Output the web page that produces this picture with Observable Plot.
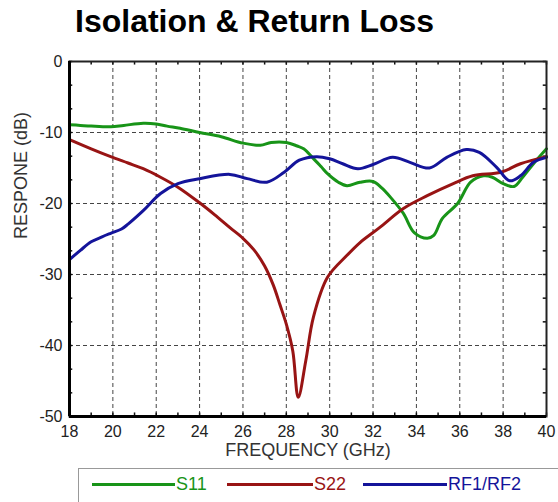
<!DOCTYPE html>
<html><head><meta charset="utf-8">
<script src="https://cdn.jsdelivr.net/npm/d3@7"></script>
<script src="https://cdn.jsdelivr.net/npm/@observablehq/plot@0.6"></script>
<style>
body{margin:0;background:#fff;font-family:"Liberation Sans",Arial,sans-serif;}
#wrap{position:relative;width:558px;height:502px;overflow:hidden;background:#fff;}
#title{position:absolute;left:75px;top:1px;font-size:32px;font-weight:bold;color:#000;line-height:40px;white-space:nowrap;}
#chart{position:absolute;left:0;top:50px;}
#legend{position:absolute;left:78px;top:468px;width:520px;height:60px;border:1px solid #999;box-sizing:border-box;}
.li{position:absolute;top:0;height:30px;display:flex;align-items:center;font-size:18px;}
.li .sw{height:3px;margin-right:1px;}
</style>
</head><body>
<div id="wrap">
  <div id="title">Isolation &amp; Return Loss</div>
  <div id="chart"></div>
  <div id="legend"></div>
</div>
<script>
// ---- data ----
const seriesNames = ["S11", "S22", "RF1/RF2"];
const seriesColors = ["#189418", "#981414", "#14149a"];

const s11Freq = [18.0,18.5,19.0,19.9,20.5,21.4,22.0,22.5,23.1,24.0,25.0,26.0,26.8,27.3,28.0,28.5,28.8,29.2,29.6,29.9,30.4,30.8,31.4,32.0,32.4,32.8,33.4,33.9,34.5,34.8,35.2,35.9,36.5,37.1,37.5,38.0,38.5,38.9,39.4,40.0];
const s11Db   = [-8.9,-9.0,-9.1,-9.2,-9.0,-8.7,-8.8,-9.1,-9.4,-10.0,-10.6,-11.5,-11.8,-11.4,-11.4,-11.9,-12.3,-13.5,-14.8,-15.8,-17.0,-17.5,-17.0,-16.9,-17.8,-19.1,-21.4,-24.1,-24.9,-24.5,-22.1,-20.0,-17.0,-16.1,-16.3,-17.2,-17.6,-16.3,-14.4,-12.3];

const s22Freq = [18.0,19.0,19.9,20.7,21.4,22.2,23.0,24.0,24.7,25.4,26.0,26.5,27.0,27.4,27.7,28.0,28.3,28.55,28.9,29.25,29.9,30.8,31.4,32.3,33.4,34.5,35.7,36.6,37.9,38.8,40.0];
const s22Db   = [-11.0,-12.3,-13.4,-14.3,-15.1,-16.3,-17.7,-19.9,-21.6,-23.4,-24.9,-26.5,-28.8,-31.5,-34.2,-37.0,-40.8,-47.3,-42.1,-36.0,-30.4,-27.3,-25.5,-23.4,-20.7,-18.9,-17.2,-16.1,-15.6,-14.4,-13.4];

const rfFreq = [18.0,18.5,19.0,19.5,19.9,20.4,20.7,21.4,22.2,23.0,24.0,25.4,26.2,27.1,27.9,28.6,29.4,30.0,30.6,31.3,32.0,32.9,33.7,34.6,35.4,36.3,36.9,37.7,38.3,38.8,39.4,40.0];
const rfDb   = [-27.9,-26.6,-25.4,-24.7,-24.2,-23.6,-22.9,-21.0,-18.6,-17.2,-16.5,-15.9,-16.5,-17.0,-15.6,-13.9,-13.4,-13.7,-14.4,-15.1,-14.5,-13.5,-14.2,-15.0,-13.5,-12.4,-12.8,-14.9,-16.8,-16.1,-14.2,-13.5];

const xTicks = [18,20,22,24,26,28,30,32,34,36,38,40];
const yTicks = [-50,-40,-30,-20,-10,0];
const xDomain = [18, 40];
const yDomain = [-50, 0];
const xLabel = "FREQUENCY (GHz)";
const yLabel = "RESPONE (dB)";

// ---- build ----
const toRows = (fs, vs, name) => fs.map((f, i) => ({freq: f, db: vs[i], series: name}));
const rows = [
  ...toRows(s11Freq, s11Db, seriesNames[0]),
  ...toRows(s22Freq, s22Db, seriesNames[1]),
  ...toRows(rfFreq, rfDb, seriesNames[2])
];
const xInner = xTicks.filter(d => d > xDomain[0] && d < xDomain[1]);
const yInner = yTicks.filter(d => d > yDomain[0] && d < yDomain[1]);
const xMinor = d3.range(xDomain[0], xDomain[1] + 0.001, 1);
const yMinor = d3.range(yDomain[0], yDomain[1] + 0.001, 10 / 3);
const tx = 0.15, ty = 0.5; // inward tick lengths in data units

const grid = {stroke: "#444", strokeOpacity: 1, strokeWidth: 1, strokeDasharray: "4,3"};
const tick = {stroke: "#111", strokeWidth: 1.5};

const chart = Plot.plot({
  width: 558,
  height: 418,
  marginTop: 11,
  marginBottom: 52,
  marginLeft: 69,
  marginRight: 12,
  style: {fontSize: "16px", fontFamily: "Liberation Sans, Arial, sans-serif", color: "#222", background: "transparent"},
  x: {domain: xDomain},
  y: {domain: yDomain},
  color: {domain: seriesNames, range: seriesColors},
  marks: [
    Plot.gridX(xInner, grid),
    Plot.gridY(yInner, grid),
    Plot.ruleX(xMinor, {y1: yDomain[0], y2: yDomain[0] + ty, ...tick}),
    Plot.ruleX(xMinor, {y1: yDomain[1], y2: yDomain[1] - ty, ...tick}),
    Plot.ruleY(yMinor, {x1: xDomain[0], x2: xDomain[0] + tx, ...tick}),
    Plot.ruleY(yMinor, {x1: xDomain[1], x2: xDomain[1] - tx, ...tick}),
    Plot.line(rows, {x: "freq", y: "db", z: "series", stroke: "series", strokeWidth: 3, curve: "catmull-rom"}),
    Plot.frame({stroke: "#222", strokeWidth: 2}),
    Plot.ruleX([xDomain[0]], {stroke: "#000", strokeWidth: 3}),
    Plot.ruleY([yDomain[0]], {stroke: "#000", strokeWidth: 3}),
    Plot.axisX({ticks: xTicks, tickSize: 0, tickPadding: 9, label: null, tickFormat: d => String(d)}),
    Plot.axisY({ticks: yTicks, tickSize: 0, tickPadding: 7, label: null, tickFormat: d => String(d)}),
    Plot.text([xLabel], {frameAnchor: "bottom", dy: 39, fontSize: 18, fill: "#333"}),
    Plot.text([yLabel], {frameAnchor: "left", rotate: -90, dx: -48, fontSize: 18, fill: "#333"})
  ]
});
document.getElementById("chart").appendChild(chart);

// legend
const legend = document.getElementById("legend");
const legendPos = [{left: 13, w: 83}, {left: 148, w: 86}, {left: 284, w: 84}];
seriesNames.forEach((name, i) => {
  const item = document.createElement("div");
  item.className = "li";
  item.style.left = legendPos[i].left + "px";
  item.style.color = seriesColors[i];
  const sw = document.createElement("div");
  sw.className = "sw";
  sw.style.width = legendPos[i].w + "px";
  sw.style.background = seriesColors[i];
  const t = document.createElement("span");
  t.textContent = name;
  item.appendChild(sw);
  item.appendChild(t);
  legend.appendChild(item);
});
</script>
</body></html>
